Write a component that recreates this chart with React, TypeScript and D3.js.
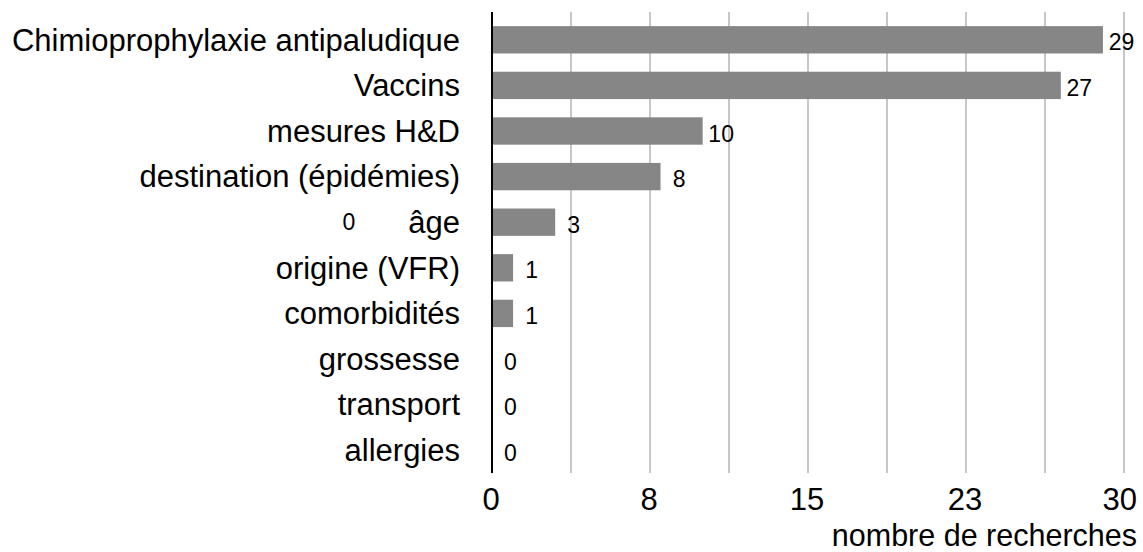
import React from "react";
import * as d3 from "d3";

const categories = [
  "Chimioprophylaxie antipaludique",
  "Vaccins",
  "mesures H&D",
  "destination (épidémies)",
  "âge",
  "origine (VFR)",
  "comorbidités",
  "grossesse",
  "transport",
  "allergies",
];
const values = [29, 27, 10, 8, 3, 1, 1, 0, 0, 0];
const gridValues = [0, 3.75, 7.5, 11.25, 15, 18.75, 22.5, 26.25, 30];
const tickValues = [0, 7.5, 15, 22.5, 30];
const tickLabels = ["0", "8", "15", "23", "30"];
const axisTitle = "nombre de recherches";
const strayLabel = "0";

const W = 1143;
const H = 552;
const FONT = "'Liberation Sans', Arial, Helvetica, sans-serif";

export default function App() {
  const x = d3.scaleLinear().domain([0, 30]).range([492, 1124]);
  const y = d3.scaleBand<string>().domain(categories).range([17, 473]).paddingInner(0.4).paddingOuter(0.2);
  const bh = y.bandwidth();
  return (
    <svg width={W} height={H} style={{ position: "absolute", left: 0, top: 0, background: "#fff" }} fontFamily={FONT}>
      {gridValues.slice(1).map((g, i) => (
        <line key={"g" + i} x1={x(g)} x2={x(g)} y1={12} y2={473} stroke="#b5b5b5" strokeWidth={1.5} />
      ))}
      {categories.map((c, i) => (
        <g key={c}>
          <rect x={x(0)} y={y(c)!} width={x(values[i]) - x(0)} height={bh} fill="#868686" />
          <text x={x(values[i]) + 18.5} y={y(c)! + bh / 2 + 2.5} dy="0.35em" fontSize={23} textAnchor="middle" fill="#000">
            {values[i]}
          </text>
          <text x={460} y={y(c)! + bh / 2} dy="0.35em" fontSize={31} textAnchor="end" fill="#000">
            {c}
          </text>
        </g>
      ))}
      <line x1={x(0)} x2={x(0)} y1={12} y2={473} stroke="#000" strokeWidth={2} />
      {tickValues.map((t, i) => {
        const last = i === tickValues.length - 1;
        return (
          <text key={"t" + i} x={last ? 1137 : x(t) - 1} y={499} dy="0.35em" fontSize={31} textAnchor={last ? "end" : "middle"} fill="#000">
            {tickLabels[i]}
          </text>
        );
      })}
      <text x={1137} y={535} dy="0.35em" fontSize={30.5} textAnchor="end" fill="#000">
        {axisTitle}
      </text>
      <text x={349} y={y("âge")! + bh / 2} dy="0.35em" fontSize={23} textAnchor="middle" fill="#000">
        {strayLabel}
      </text>
    </svg>
  );
}
